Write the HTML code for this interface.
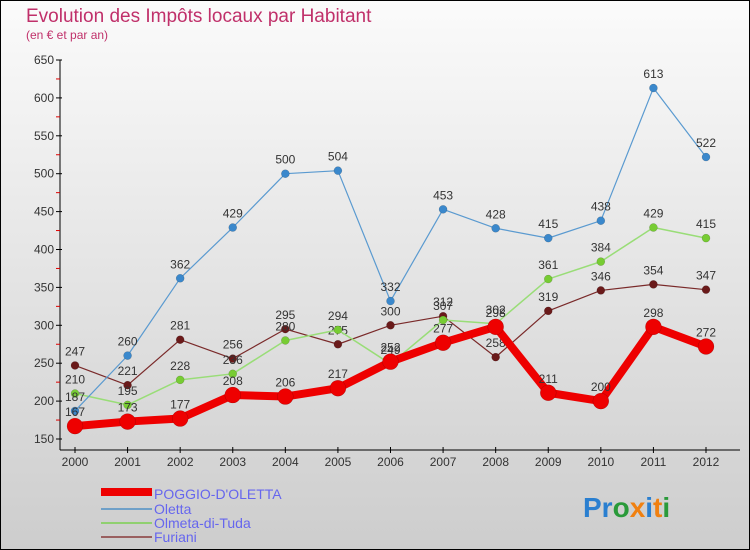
<!DOCTYPE html>
<html><head><meta charset="utf-8"><style>
body{margin:0}
svg{display:block;font-family:"Liberation Sans",sans-serif}
</style></head><body>
<svg id="c" width="750" height="550" viewBox="0 0 750 550">
<defs><linearGradient id="bg" x1="0" y1="0" x2="0" y2="1"><stop offset="0" stop-color="#fbfbfb"/><stop offset="1" stop-color="#cdcdcd"/></linearGradient></defs>
<rect x="0.5" y="0.5" width="749" height="549" fill="url(#bg)" stroke="#000"/>
<text x="26" y="22" font-size="19" fill="#c0306a">Evolution des Impôts locaux par Habitant</text>
<text x="26" y="39" font-size="12" fill="#c0306a">(en € et par an)</text>
<g id="axes"></g>
<g id="series"></g>
<g id="legend">
<rect x="101" y="488" width="51" height="8" fill="#e00"/>
<text x="154" y="499" font-size="14" fill="#6666ee">POGGIO-D'OLETTA</text>
<line x1="101" y1="509" x2="152" y2="509" stroke="#6fa0c8" stroke-width="2"/>
<text x="154" y="514" font-size="14" fill="#6666ee">Oletta</text>
<line x1="101" y1="523" x2="152" y2="523" stroke="#90d070" stroke-width="2"/>
<text x="154" y="528" font-size="14" fill="#6666ee">Olmeta-di-Tuda</text>
<line x1="101" y1="537" x2="152" y2="537" stroke="#9a6060" stroke-width="2"/>
<text x="154" y="542" font-size="14" fill="#6666ee">Furiani</text>
</g>
<text x="583" y="517" font-size="28" font-weight="bold"><tspan fill="#2a7fd0">Pr</tspan><tspan fill="#2a9a3a">o</tspan><tspan fill="#f08010">x</tspan><tspan fill="#2a7fd0">i</tspan><tspan fill="#f08010">t</tspan><tspan fill="#2a9a3a">i</tspan></text>
</svg>
<script>
const years=[2000,2001,2002,2003,2004,2005,2006,2007,2008,2009,2010,2011,2012];
const yTicks=[150,200,250,300,350,400,450,500,550,600,650];
const poggio=[167,173,177,208,206,217,252,277,298,211,200,298,272];
const oletta=[187,260,362,429,500,504,332,453,428,415,438,613,522];
const olmeta=[210,195,228,236,280,294,249,307,302,361,384,429,415];
const furiani=[247,221,281,256,295,275,300,312,258,319,346,354,347];
const NS="http://www.w3.org/2000/svg";
function X(i){return 75+i*(706-75)/(years.length-1);}
function Y(v){return 439-(v-150)*(439-60)/500;}
function mk(t,a,p){const e=document.createElementNS(NS,t);for(const k in a)e.setAttribute(k,a[k]);p.appendChild(e);return e;}
const ax=document.getElementById('axes');
mk('line',{x1:60,y1:60,x2:60,y2:450,stroke:'#000'},ax);
mk('line',{x1:60,y1:450,x2:740,y2:450,stroke:'#000'},ax);
yTicks.forEach(v=>{
  mk('line',{x1:56,y1:Y(v),x2:62,y2:Y(v),stroke:'#000'},ax);
  const t=mk('text',{x:54,y:Y(v)+4,'font-size':12,fill:'#333','text-anchor':'end'},ax);
  t.textContent=v;
  
  
  if(v<650){mk('line',{x1:56,y1:Y(v+25),x2:60,y2:Y(v+25),stroke:'#d00'},ax);}
});
years.forEach((yr,i)=>{
  mk('line',{x1:X(i),y1:447,x2:X(i),y2:453,stroke:'#000'},ax);
  const t=mk('text',{x:X(i),y:466,'font-size':12,fill:'#333','text-anchor':'middle'},ax);
  t.textContent=yr;
  
  
});
const sg=document.getElementById('series');
function draw(data,name,color,w,r,fill,labelColor){
  const g=mk('g',{},sg);
  
  
  const pts=data.map((v,i)=>X(i)+','+Y(v)).join(' ');
  mk('polyline',{points:pts,fill:'none',stroke:color,'stroke-width':w,'stroke-linejoin':'round'},g);
  data.forEach((v,i)=>{
    const c=mk('circle',{cx:X(i),cy:Y(v),r:r,fill:fill,stroke:'rgba(0,0,0,0.25)','stroke-width':0.5},g);
    
    
    const t=mk('text',{x:X(i),y:Y(v)-10,'font-size':12,fill:'#333','text-anchor':'middle'},g);
    t.textContent=v;
    
    
  });
}
draw(furiani,'furiani','#7a2a2a',1.2,4,'#6a1a1a');
draw(olmeta,'olmeta','#99dd77',1.5,4,'#77cc33');
draw(oletta,'oletta','#5a9ad0',1.2,4,'#3a88cc');
draw(poggio,'poggio','#ee0000',8,8,'#ee0000');
</script>
</body></html>
